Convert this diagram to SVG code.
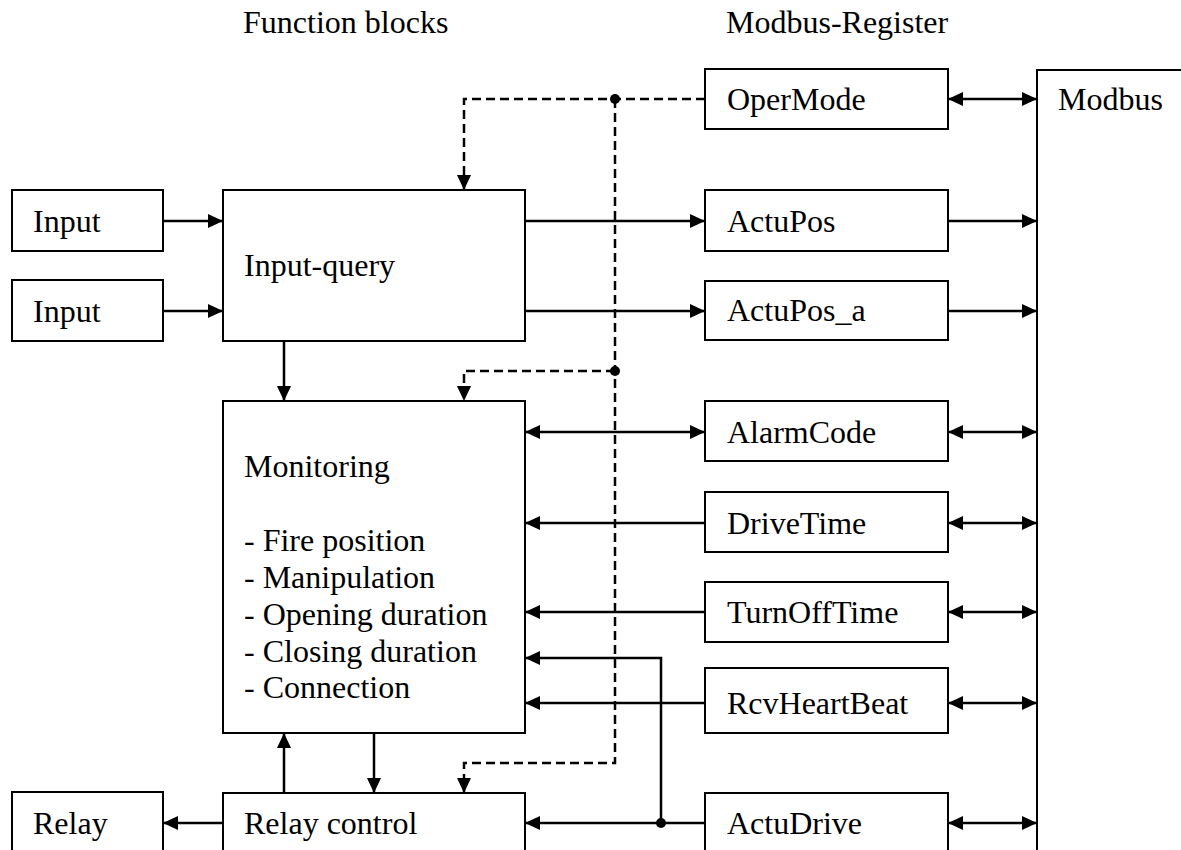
<svg xmlns="http://www.w3.org/2000/svg" width="1181" height="850" viewBox="0 0 1181 850">
<style>
.box{fill:#fff;stroke:#000;stroke-width:2}
.t{font-family:"Liberation Serif","Times New Roman",serif;font-size:32px;fill:#000}
.c{fill:none;stroke:#000;stroke-width:2.5}
.d{fill:none;stroke:#000;stroke-width:2.5;stroke-dasharray:9 5}
</style>
<defs>
<marker id="ah" markerUnits="userSpaceOnUse" markerWidth="16" markerHeight="14" refX="15" refY="7" orient="auto">
<path d="M0,0 L15,7 L0,14 Z" fill="#000"/>
</marker>
<marker id="as" markerUnits="userSpaceOnUse" markerWidth="16" markerHeight="14" refX="0" refY="7" orient="auto">
<path d="M15,0 L0,7 L15,14 Z" fill="#000"/>
</marker>
</defs>
<rect width="1181" height="850" fill="#fff"/>
<text class="t" x="243" y="33">Function blocks</text>
<text class="t" x="726" y="33">Modbus-Register</text>

<g id="connectors">
<path class="c" d="M163,221 H223" marker-end="url(#ah)"/>
<path class="c" d="M163,311 H223" marker-end="url(#ah)"/>
<path class="c" d="M525,221 H705" marker-end="url(#ah)"/>
<path class="c" d="M525,311 H705" marker-end="url(#ah)"/>
<path class="c" d="M948,99 H1037" marker-start="url(#as)" marker-end="url(#ah)"/>
<path class="c" d="M948,221 H1037" marker-end="url(#ah)"/>
<path class="c" d="M948,311 H1037" marker-end="url(#ah)"/>
<path class="c" d="M525,432 H705" marker-start="url(#as)" marker-end="url(#ah)"/>
<path class="c" d="M948,432 H1037" marker-start="url(#as)" marker-end="url(#ah)"/>
<path class="c" d="M705,523 H525" marker-end="url(#ah)"/>
<path class="c" d="M948,523 H1037" marker-start="url(#as)" marker-end="url(#ah)"/>
<path class="c" d="M705,612 H525" marker-end="url(#ah)"/>
<path class="c" d="M948,612 H1037" marker-start="url(#as)" marker-end="url(#ah)"/>
<path class="c" d="M705,703 H525" marker-end="url(#ah)"/>
<path class="c" d="M948,703 H1037" marker-start="url(#as)" marker-end="url(#ah)"/>
<path class="c" d="M705,823 H525" marker-end="url(#ah)"/>
<path class="c" d="M948,823 H1037" marker-start="url(#as)" marker-end="url(#ah)"/>
<path class="c" d="M661,823 V658 H525" marker-end="url(#ah)"/>
<circle cx="661" cy="823" r="5" fill="#000"/>
<path class="c" d="M284,341 V401" marker-end="url(#ah)"/>
<path class="c" d="M284,793 V733" marker-end="url(#ah)"/>
<path class="c" d="M374,733 V793" marker-end="url(#ah)"/>
<path class="c" d="M223,823 H163" marker-end="url(#ah)"/>
<path class="d" d="M705,99 H464 V190" marker-end="url(#ah)"/>
<path class="d" d="M615,99 V763 H464 V793" marker-end="url(#ah)"/>
<path class="d" d="M615,371 H464 V401" marker-end="url(#ah)"/>
<circle cx="615" cy="99" r="5" fill="#000"/>
<circle cx="615" cy="371" r="5" fill="#000"/>
</g>

<g id="input1"><rect class="box" x="12" y="190" width="151" height="61"/><text class="t" x="33" y="232">Input</text></g>
<g id="input2"><rect class="box" x="12" y="280" width="151" height="61"/><text class="t" x="33" y="322">Input</text></g>
<g id="input-query"><rect class="box" x="223" y="190" width="302" height="151"/><text class="t" x="244" y="276">Input-query</text></g>
<g id="monitoring"><rect class="box" x="223" y="401" width="302" height="332"/>
<text class="t" x="244" y="477">Monitoring</text>
<text class="t" x="244" y="551">- Fire position</text>
<text class="t" x="244" y="588">- Manipulation</text>
<text class="t" x="244" y="625">- Opening duration</text>
<text class="t" x="244" y="662">- Closing duration</text>
<text class="t" x="244" y="698">- Connection</text>
</g>
<g id="relay"><rect class="box" x="12" y="792" width="151" height="70"/><text class="t" x="33" y="834">Relay</text></g>
<g id="relay-control"><rect class="box" x="223" y="793" width="302" height="70"/><text class="t" x="244" y="834">Relay control</text></g>
<g id="opermode"><rect class="box" x="705" y="69" width="243" height="60"/><text class="t" x="727" y="110">OperMode</text></g>
<g id="actupos"><rect class="box" x="705" y="190" width="243" height="61"/><text class="t" x="727" y="232">ActuPos</text></g>
<g id="actupos_a"><rect class="box" x="705" y="281" width="243" height="59"/><text class="t" x="727" y="321">ActuPos_a</text></g>
<g id="alarmcode"><rect class="box" x="705" y="401" width="243" height="60"/><text class="t" x="727" y="443">AlarmCode</text></g>
<g id="drivetime"><rect class="box" x="705" y="492" width="243" height="60"/><text class="t" x="727" y="534">DriveTime</text></g>
<g id="turnofftime"><rect class="box" x="705" y="582" width="243" height="60"/><text class="t" x="727" y="623">TurnOffTime</text></g>
<g id="rcvheartbeat"><rect class="box" x="705" y="668" width="243" height="65"/><text class="t" x="727" y="714">RcvHeartBeat</text></g>
<g id="actudrive"><rect class="box" x="705" y="793" width="243" height="70"/><text class="t" x="727" y="834">ActuDrive</text></g>
<g id="modbus"><rect class="box" x="1037" y="70" width="160" height="800"/><text class="t" x="1058" y="110">Modbus</text></g>
</svg>
